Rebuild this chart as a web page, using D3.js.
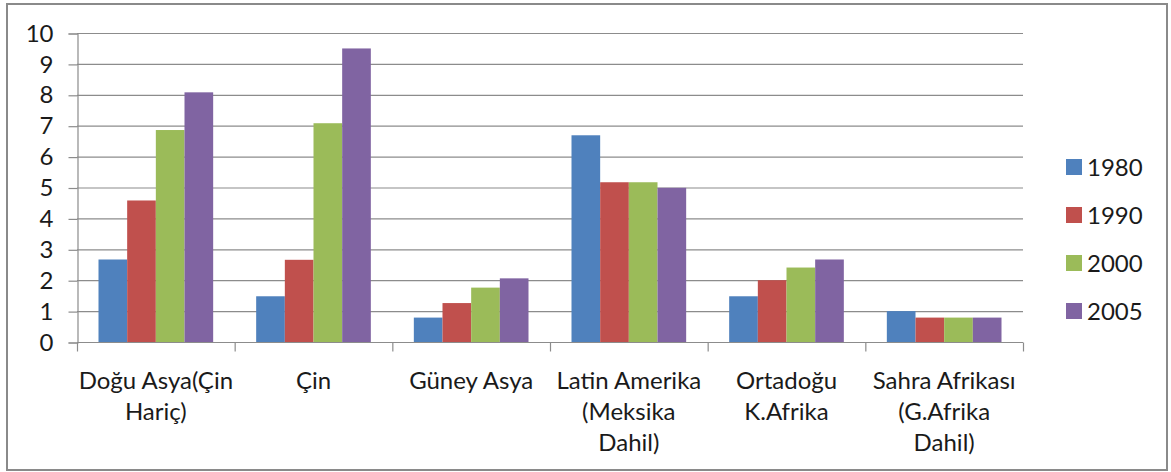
<!DOCTYPE html>
<html>
<head>
<meta charset="utf-8">
<script src="https://cdn.jsdelivr.net/npm/d3@7"></script>
<style>
  html, body { margin: 0; padding: 0; background: #fff; }
  svg { display: block; }
  text { font-family: Lato, "Open Sans", sans-serif; fill: #1a1a1a; }
</style>
</head>
<body>
<svg id="chart" width="1171" height="472"></svg>
<script>
// Regions (each label split into the lines it is printed on)
const categories = [
  ["Doğu Asya(Çin", "Hariç)"],
  ["Çin"],
  ["Güney Asya"],
  ["Latin Amerika", "(Meksika", "Dahil)"],
  ["Ortadoğu", "K.Afrika"],
  ["Sahra Afrikası", "(G.Afrika", "Dahil)"]
];
const years = ["1980", "1990", "2000", "2005"];

// One value per region, per year
const v1980 = [2.67, 1.48, 0.79, 6.69, 1.48, 1.0];
const v1990 = [4.58, 2.66, 1.26, 5.17, 2.0, 0.79];
const v2000 = [6.86, 7.08, 1.76, 5.17, 2.41, 0.79];
const v2005 = [8.08, 9.5, 2.06, 4.99, 2.67, 0.79];
const seriesValues = [v1980, v1990, v2000, v2005];

const yTicks = [0, 1, 2, 3, 4, 5, 6, 7, 8, 9, 10];
const colors = ["#4F81BD", "#C0504D", "#9BBB59", "#8064A2"];

const svg = d3.select("#chart");

// Outer chart frame
svg.append("rect")
  .attr("x", 7).attr("y", 4).attr("width", 1160).attr("height", 466)
  .attr("fill", "#fff").attr("stroke", "#8a8a8a").attr("stroke-width", 2);

const plot = { left: 77, right: 1023, top: 33, bottom: 342 };

const catNames = categories.map(c => c.join(" "));
const x0 = d3.scaleBand().domain(catNames).range([plot.left, plot.right]).paddingInner(0).paddingOuter(0);
const x1 = d3.scaleBand().domain(years).range([0, x0.bandwidth()]).paddingInner(0).paddingOuter(0.75);
const y = d3.scaleLinear().domain([0, 10]).range([plot.bottom, plot.top]);

// Horizontal gridlines
svg.append("g").selectAll("line").data(yTicks.filter(t => t > 0)).join("line")
  .attr("x1", plot.left).attr("x2", plot.right)
  .attr("y1", d => y(d) + 0.5).attr("y2", d => y(d) + 0.5)
  .attr("stroke", "#8c8c8c").attr("stroke-width", 1.2);

// Y axis
const yAxis = d3.axisLeft(y).tickValues(yTicks).tickSize(9).tickPadding(15).tickFormat(d3.format("d"));
const gy = svg.append("g").attr("transform", `translate(${plot.left + 0.5},0.5)`).call(yAxis);
gy.select(".domain").attr("stroke", "#8c8c8c").attr("stroke-width", 1.2);
gy.selectAll(".tick line").attr("stroke", "#8c8c8c").attr("stroke-width", 1.2);
gy.selectAll(".tick text").attr("font-size", 24).attr("font-family", "Lato, sans-serif").attr("fill", "#1a1a1a");

// Bars
const groups = svg.append("g").selectAll("g").data(catNames).join("g")
  .attr("transform", d => `translate(${x0(d)},0)`);
groups.selectAll("rect")
  .data((d, i) => years.map((yr, s) => ({ yr, s, v: seriesValues[s][i] })))
  .join("rect")
  .attr("x", d => x1(d.yr))
  .attr("width", x1.bandwidth())
  .attr("y", d => y(d.v))
  .attr("height", d => y(0) - y(d.v))
  .attr("fill", d => colors[d.s]);

// X axis (category boundaries as tick marks)
const gx = svg.append("g").attr("transform", `translate(0,${plot.bottom + 0.5})`);
gx.append("line").attr("x1", plot.left).attr("x2", plot.right)
  .attr("stroke", "#8c8c8c").attr("stroke-width", 1.2);
const bounds = catNames.map(d => x0(d)).concat([plot.right]);
gx.selectAll("line.tk").data(bounds).join("line").attr("class", "tk")
  .attr("x1", d => d + 0.5).attr("x2", d => d + 0.5).attr("y1", 0).attr("y2", 9)
  .attr("stroke", "#8c8c8c").attr("stroke-width", 1.2);

// Category labels
const lab = svg.append("g").selectAll("text").data(categories).join("text")
  .attr("text-anchor", "middle")
  .attr("font-size", 24)
  .attr("x", (d, i) => x0(catNames[i]) + x0.bandwidth() / 2)
  .attr("y", 389);
lab.selectAll("tspan").data(d => d).join("tspan")
  .attr("x", function () { return this.parentNode.getAttribute("x"); })
  .attr("dy", (d, i) => i === 0 ? 0 : 31)
  .text(d => d);

// Legend
const leg = svg.append("g").selectAll("g").data(years).join("g")
  .attr("transform", (d, i) => `translate(1066,${167 + i * 48})`);
leg.append("rect").attr("x", 0).attr("y", -8).attr("width", 16).attr("height", 16)
  .attr("fill", (d, i) => colors[i]);
leg.append("text").attr("x", 21).attr("y", 0).attr("dy", "0.36em")
  .attr("font-size", 24).text(d => d);
</script>
</body>
</html>
